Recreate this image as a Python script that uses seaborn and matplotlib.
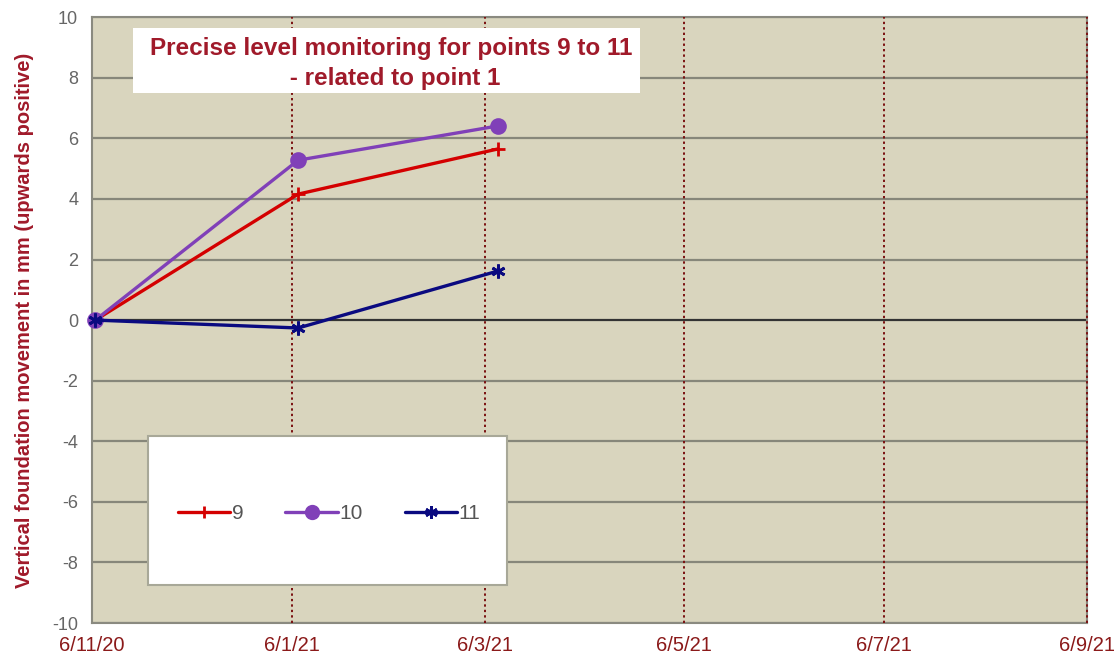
import pandas as pd
import matplotlib.pyplot as plt
import matplotlib.patches as mpatches
import seaborn as sns

# survey dates (d/m/y) and movements in mm, relative to point 1
survey_dates = ["2020-11-07", "2021-01-08", "2021-03-10"]
point_9 = [0.0, 4.16, 5.65]
point_10 = [0.0, 5.28, 6.41]
point_11 = [0.0, -0.26, 1.62]

tick_dates = ["2020-11-06", "2021-01-06", "2021-03-06", "2021-05-06", "2021-07-06", "2021-09-06"]
tick_labels = ["6/11/20", "6/1/21", "6/3/21", "6/5/21", "6/7/21", "6/9/21"]

rows = []
for name, vals in [("9", point_9), ("10", point_10), ("11", point_11)]:
    for d, v in zip(survey_dates, vals):
        rows.append({"date": pd.Timestamp(d), "movement": v, "point": name})
df = pd.DataFrame(rows)

sns.set_style("white")
plt.rcParams["font.family"] = ["Liberation Sans", "DejaVu Sans"]

fig = plt.figure(figsize=(11.17, 6.62), dpi=100)
ax = fig.add_axes([0.0824, 0.0589, 0.8906, 0.9151])
ax.set_facecolor("#d9d5be")

palette = {"9": "#d40000", "10": "#8040b8", "11": "#0a0a80"}
markers = {"9": "+", "10": "o", "11": (6, 2, 0)}

# grid first so the series sit on top
for yv in range(-10, 11, 2):
    ax.axhline(yv, color="#87877a" if yv != 0 else "#333333", lw=1.6, zorder=1)
ticks = pd.to_datetime(tick_dates)
for t in ticks[1:]:
    ax.axvline(t, color="#7a1010", lw=1.4, ls=(0, (1.2, 1.6)), zorder=2.6, clip_on=False)

for k in ["9", "10", "11"]:
    sub = df[df["point"] == k]
    sns.lineplot(data=sub, x="date", y="movement", color=palette[k],
                 marker=markers[k], lw=2.4, markersize=10, markeredgewidth=2,
                 markeredgecolor=palette[k], ax=ax, zorder=3, clip_on=False)

ax.set_xlim(ticks[0], ticks[-1])
ax.set_ylim(-10, 10)
ax.set_xticks(ticks)
ax.set_xticklabels(tick_labels, color="#8b1a1a", fontsize=14.5)
ax.set_yticks(range(-10, 11, 2))
ax.set_yticklabels([str(v) for v in range(-10, 11, 2)], color="#666666", fontsize=13)
ax.tick_params(axis="y", length=6, color="#888888", pad=4)
ax.tick_params(axis="x", length=0, pad=9)
ax.set_xlabel("")
ax.set_ylabel("Vertical foundation movement in mm (upwards positive)",
              color="#a01a2a", fontweight="bold", fontsize=14.5, labelpad=13)
for s in ax.spines.values():
    s.set_color("#8a8a80")
    s.set_linewidth(1.5)

# title box
ax.add_patch(mpatches.Rectangle((0.041, 0.875), 0.51, 0.108, transform=ax.transAxes,
                                facecolor="white", edgecolor="none", zorder=4))
ax.text(0.301, 0.924, "Precise level monitoring for points 9 to 11\n - related to point 1",
        transform=ax.transAxes, ha="center", va="center", fontsize=17.5,
        fontweight="bold", color="#a01a2a", linespacing=1.4, zorder=5)

# legend box
ax.add_patch(mpatches.Rectangle((0.056, 0.063), 0.361, 0.246, transform=ax.transAxes,
                                facecolor="white", edgecolor="#a8a898", lw=1.5, zorder=4))
handles = [plt.Line2D([], [], color=palette[k], marker=markers[k], lw=2.4,
                      markersize=9, markeredgewidth=2, markeredgecolor=palette[k])
           for k in ["9", "10", "11"]]
leg = ax.legend(handles, ["9", "10", "11"], ncol=3, frameon=False,
                loc="center", bbox_to_anchor=(0.2385, 0.181), fontsize=15,
                handlelength=2.5, handletextpad=0.1, columnspacing=2.0)
leg.set_zorder(6)
for t in leg.get_texts():
    t.set_color("#555555")

fig.savefig("out.png", dpi=100)
